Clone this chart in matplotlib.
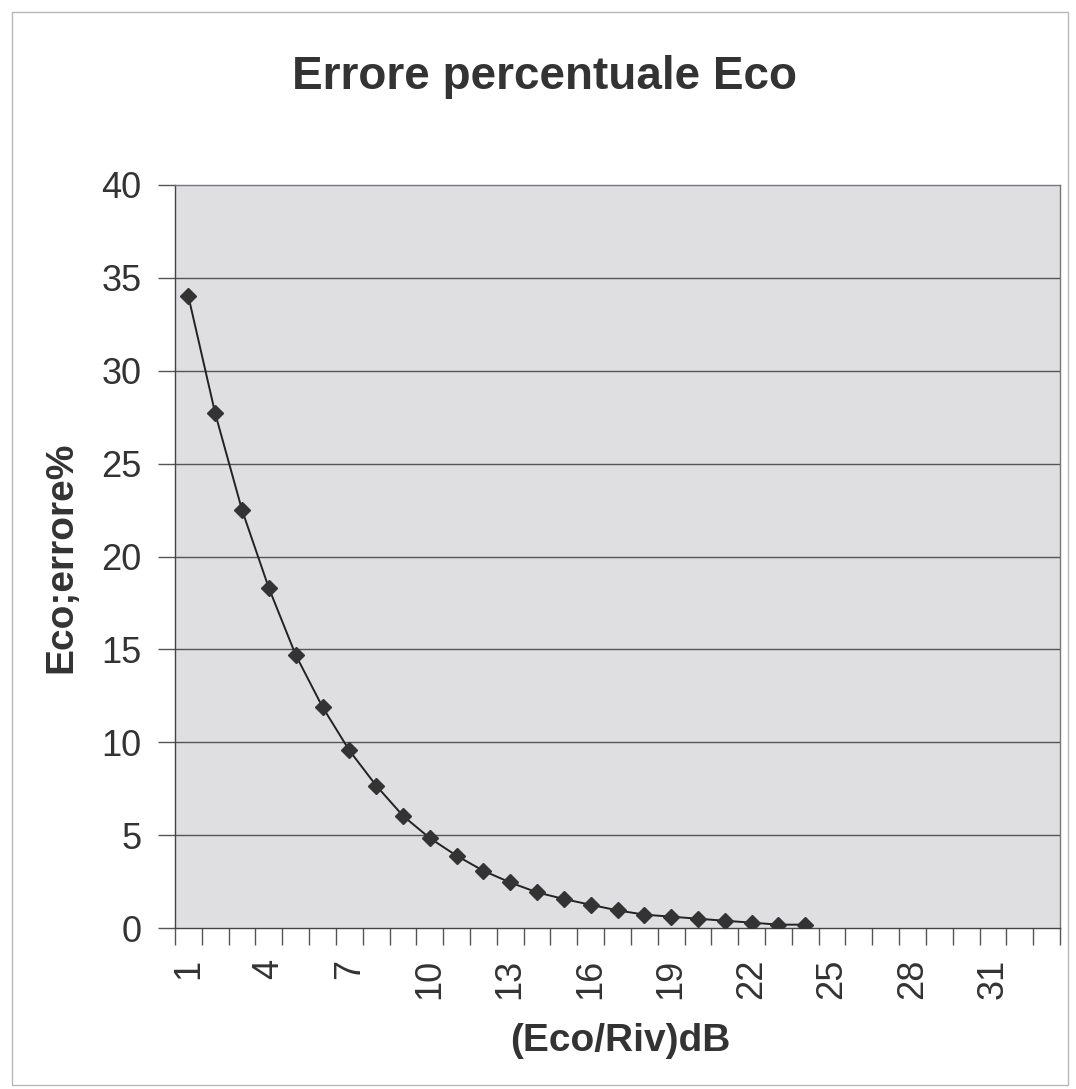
import numpy as np
import matplotlib
matplotlib.use("Agg")
import matplotlib.pyplot as plt
from matplotlib.patches import Rectangle

# categories (Eco/Riv)dB and percent error
categories = list(range(1, 34))
x_vals = list(range(1, 25))
errore = [34.0, 27.7, 22.5, 18.3, 14.7, 11.9, 9.56, 7.67, 6.04, 4.84,
          3.89, 3.08, 2.45, 1.92, 1.56, 1.25, 0.95, 0.72, 0.61, 0.50,
          0.39, 0.29, 0.18, 0.18]
x_labels = [1, 4, 7, 10, 13, 16, 19, 22, 25, 28, 31]
y_ticks = [0, 5, 10, 15, 20, 25, 30, 35, 40]

plt.rcParams['font.family'] = ['Liberation Sans', 'DejaVu Sans']

W, H = 1076, 1089
fig = plt.figure(figsize=(W / 100, H / 100), dpi=100)
fig.patch.set_facecolor("white")

# outer chart border
fig.patches.append(Rectangle((12 / W, 4 / H), 1056 / W, 1073 / H,
                             transform=fig.transFigure, fill=False,
                             edgecolor="#b8b8b8", linewidth=1.0))

ax = fig.add_axes([175 / W, 161 / H, 885 / W, 743 / H])
ax.set_facecolor("#dfdfe1")

for yv in y_ticks[1:-1]:
    ax.axhline(yv, color="#555555", linewidth=1.0, zorder=1)

ax.plot(x_vals, errore, color="#222222", linewidth=1.4, marker="D",
        markersize=8, markerfacecolor="#333333", markeredgecolor="#333333",
        zorder=3)

ax.set_xlim(0.5, len(categories) + 0.5)
ax.set_ylim(0, 40)

ax.set_yticks(y_ticks)
ax.set_yticklabels([str(v) for v in y_ticks])
ax.tick_params(axis="y", direction="out", length=12, width=1.0,
               color="#555555", labelsize=26, labelcolor="#333333", pad=12)

ax.set_xticks(x_labels)
ax.set_xticklabels([str(v) for v in x_labels], rotation=90, va="top")
ax.set_xticks(np.arange(0.5, len(categories) + 1, 1.0), minor=True)
ax.tick_params(axis="x", which="major", length=0, labelsize=26,
               labelcolor="#333333", pad=22)
ax.tick_params(axis="x", which="minor", direction="out", length=12,
               width=1.0, color="#555555")

for s in ax.spines.values():
    s.set_color("#777777")
    s.set_linewidth(1.0)
ax.spines["left"].set_color("#444444")
ax.spines["bottom"].set_color("#444444")

fig.text(620 / W, 1 - 1041 / H, "(Eco/Riv)dB", ha="center", va="center",
         fontsize=28, fontweight="bold", color="#333333")
fig.text(61 / W, 1 - 557 / H, "Eco;errore%", ha="center", va="center",
         rotation=90, fontsize=28, fontweight="bold", color="#333333")

fig.text(545 / W, 1 - 77 / H, "Errore percentuale Eco",
         ha="center", va="center", fontsize=33, fontweight="bold",
         color="#333333")

plt.savefig("out.png", dpi=100)
